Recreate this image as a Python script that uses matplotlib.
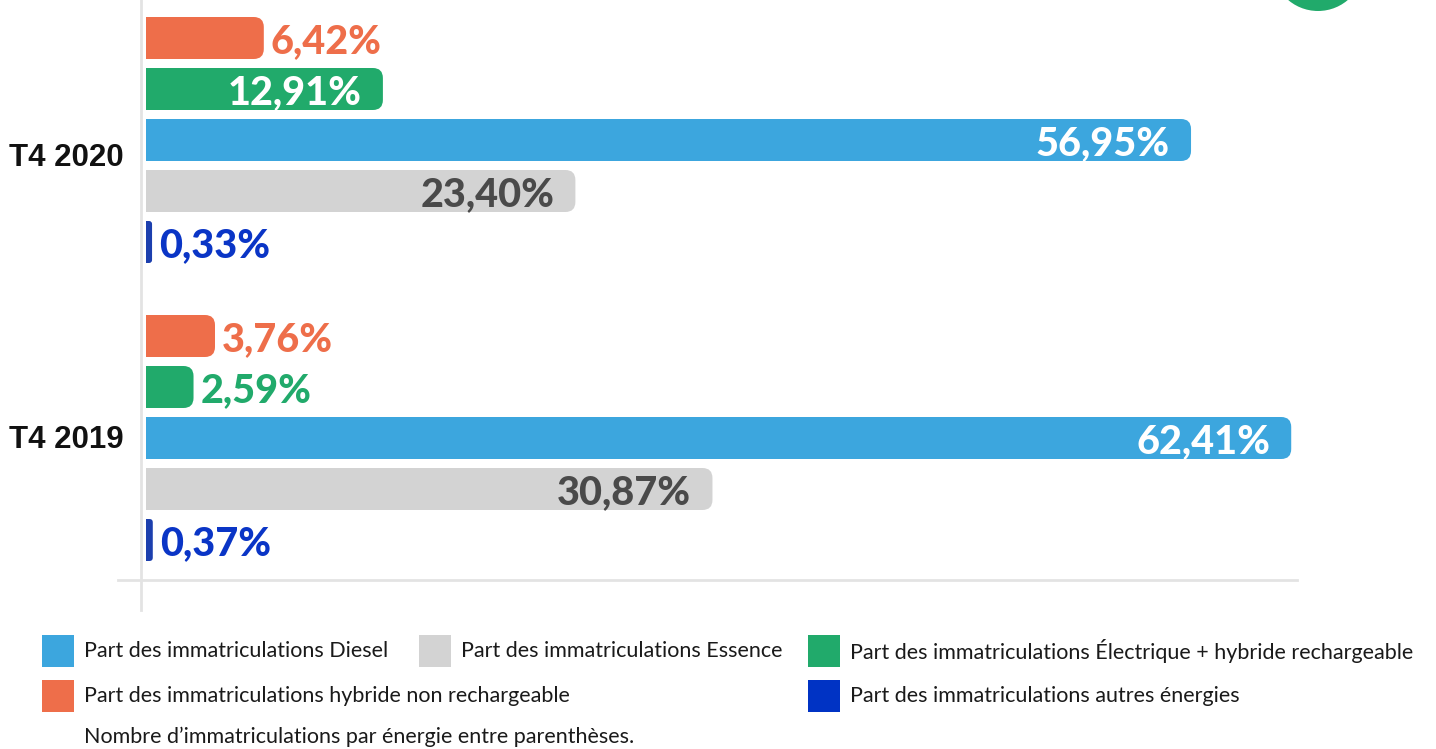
import matplotlib
matplotlib.use("Agg")
import matplotlib.pyplot as plt
from matplotlib.patches import FancyBboxPatch, Rectangle, Ellipse
from matplotlib.lines import Line2D

# data
periods = ["T4 2020", "T4 2019"]
series = ["hybride non rechargeable", "Électrique + hybride rechargeable", "Diesel", "Essence", "autres énergies"]
hybride = [6.42, 3.76]
electrique = [12.91, 2.59]
diesel = [56.95, 62.41]
essence = [23.40, 30.87]
autres = [0.33, 0.37]
values = [hybride, electrique, diesel, essence, autres]

bar_colors = ["#ee6e4a", "#21aa6b", "#3ca6de", "#d3d3d3", "#1c3fae"]
inside_colors = ["white", "white", "white", "#4a4a4a", "white"]
legend_colors = {"Diesel": "#3ca6de", "Essence": "#d3d3d3",
                 "Électrique + hybride rechargeable": "#21aa6b",
                 "hybride non rechargeable": "#ee6e4a", "autres énergies": "#0033c4"}
label_colors = ["#ee6e4a", "#21aa6b", "#3ca6de", "#4a4a4a", "#0a35c6"]

W, H = 1436, 749
fig = plt.figure(figsize=(W / 100, H / 100), dpi=100)

px_x = 18.35   # pixels per %
px_y = 298.0   # pixels per group
x0, x1 = 146, 1297
ax = fig.add_axes([x0 / W, 1 - 580 / H, (x1 - x0) / W, 580 / H])
ax.set_xlim(0, (x1 - x0) / px_x)
ax.set_ylim(-(580 - 438) / px_y, 438 / px_y)
ax.axis("off")

group_y = [1, 0]
step = 51 / px_y
bh = 42 / px_y
aspect = (1 / px_y) / (1 / px_x)

for s, vals in enumerate(values):
    for g, v in enumerate(vals):
        yc = group_y[g] + (2 - s) * step
        r = min(10 / px_x, v / 2)
        box = FancyBboxPatch((0, yc - bh / 2), v, bh,
                             boxstyle="round,pad=0,rounding_size=%f" % r,
                             mutation_aspect=aspect, fc=bar_colors[s], ec="none")
        ax.add_patch(box)
        ax.add_patch(Rectangle((0, yc - bh / 2), r, bh, fc=bar_colors[s], ec="none"))
        txt = ("%.2f%%" % v).replace(".", ",")
        if v >= 10:
            ax.text(v - 21 / px_x, yc, txt, ha="right", va="center_baseline",
                    color=inside_colors[s], fontsize=28.5, fontweight="black", family="Lato")
        else:
            ax.text(v + 7 / px_x, yc, txt, ha="left", va="center_baseline",
                    color=label_colors[s], fontsize=28.5, fontweight="black", family="Lato")

# group labels
for g, name in enumerate(periods):
    ypix = [158, 440][g]
    fig.text(124 / W, 1 - ypix / H, name, ha="right", va="center",
             fontsize=22.5, fontweight="bold", family="Liberation Sans", color="#111111")

# axis lines
fig.add_artist(Line2D([141 / W, 141 / W], [1, 1 - 610 / H], color="#e3e3e3", lw=2))
fig.add_artist(Line2D([118 / W, 1297 / W], [1 - 580 / H, 1 - 580 / H], color="#e3e3e3", lw=2))

# green badge top-right
fig.add_artist(Ellipse((1318 / W, 1 + 35 / H), 92 / W, 92 / H, fc="#21aa6b", ec="none",
                       transform=fig.transFigure))

# legend
legend_items = [("Diesel", 42, 651), ("Essence", 419, 651),
                ("Électrique + hybride rechargeable", 808, 651),
                ("hybride non rechargeable", 42, 696), ("autres énergies", 808, 696)]
for name, lx, ly in legend_items:
    fig.add_artist(Rectangle((lx / W, 1 - (ly + 16) / H), 32 / W, 32 / H,
                             fc=legend_colors[name], ec="none", transform=fig.transFigure))
    fig.text((lx + 42) / W, 1 - ly / H, "Part des immatriculations " + name,
             ha="left", va="center", fontsize=15.5, family="Lato", color="#1a1a1a")
fig.text(84 / W, 1 - 737 / H, "Nombre d’immatriculations par énergie entre parenthèses.",
         ha="left", va="center", fontsize=15.5, family="Lato", color="#1a1a1a")

fig.savefig("out.png", dpi=100)
